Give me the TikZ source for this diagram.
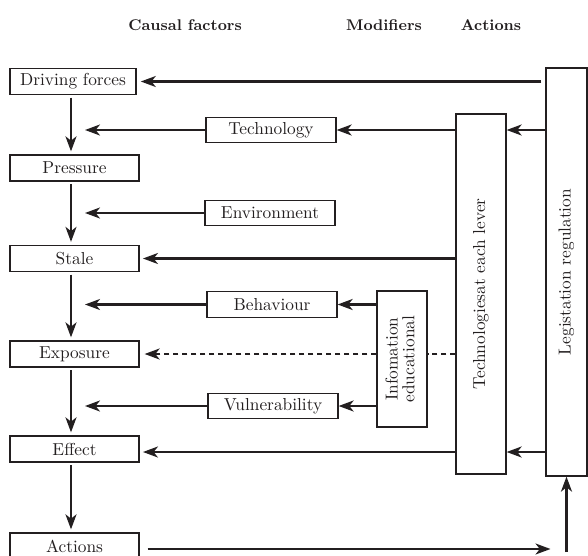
\documentclass[tikz,border=0pt]{standalone}
\usepackage{graphicx}
\usepackage{tikz}
\usetikzlibrary{arrows.meta,positioning,calc}
\definecolor{inkgray}{RGB}{35,31,32}

\begin{document}
\begin{tikzpicture}[x=0.6pt, y=-0.6pt,
  font=\fontsize{10.4}{12}\selectfont, text=inkgray,
  hdr/.style={font=\fontsize{9.3}{11}\selectfont\bfseries},
  cbox/.style={rectangle, draw=inkgray, line width=0.75pt, inner sep=0pt,
               minimum width=77.4pt, minimum height=15.6pt},
  mbox/.style={rectangle, draw=inkgray, line width=0.75pt, inner sep=0pt,
               minimum width=78pt, minimum height=15.4pt},
  tbox/.style={rectangle, draw=inkgray, line width=0.75pt, inner sep=0pt},
  farr/.style={-{Stealth[length=9pt, width=6.6pt, inset=2.6pt]}, line width=1.3pt, draw=inkgray},
  fline/.style={line width=1.3pt, draw=inkgray}
]
\useasboundingbox (0,0) rectangle (588,556);

% Headings
\node[hdr] (hcf)  at (185,25) {Causal factors};
\node[hdr] (hmod) at (384,25) {Modifiers};
\node[hdr] (hact) at (491,25) {Actions};

% Causal chain
\node[cbox, minimum width=75.6pt] (df) at (73,81.5) {Driving forces};
\node[cbox] (pr) at (74.5,168)   {Pressure};
\node[cbox] (st) at (74.5,258.5) {Stale};
\node[cbox] (ex) at (74.5,354)   {Exposure};
\node[cbox] (ef) at (74.5,449)   {Effect};
\node[cbox] (ac) at (74.5,546)   {Actions};

% Modifiers
\node[mbox] (tec) at (271,130)   {Technology};
\node[mbox] (env) at (270,213)   {Environment};
\node[mbox] (beh) at (272,304.5) {Behaviour};
\node[mbox] (vul) at (273,406)   {Vulnerability};

% Actions
\node[tbox, minimum width=30pt, minimum height=81.6pt] (info) at (402,359)
  {\rotatebox{90}{\begin{tabular}{@{}c@{}}Infomation\\[-2pt]educational\end{tabular}}};
\node[tbox, minimum width=30pt, minimum height=216pt] (tlev) at (481,294)
  {\rotatebox{90}{Technologiesat each lever}};
\node[tbox, minimum width=24.6pt, minimum height=244.8pt] (leg) at (566.5,272)
  {\rotatebox{90}{Legistation regulation}};

% Helper coordinates
\coordinate (vx) at (71,0);
\coordinate (sx) at (85,0);

% Chain arrows
\foreach \a/\b in {df/pr, pr/st, st/ex, ex/ef, ef/ac}
  \draw[farr, shorten <=1.5pt, shorten >=1.8pt] (\a.south -| vx) -- (\b.north -| vx);

% Modifier arrows
\foreach \m in {tec, env, beh, vul}
  \draw[farr] (\m.west) -- (\m.west -| sx);

% Arrows from the action boxes
\draw[farr, shorten <=2.4pt, shorten >=2.5pt] (leg.west |- df.east) -- (df.east);
\draw[farr] (leg.west |- tec.east) -- (tlev.east |- tec.east);
\draw[farr] ($(leg.west |- ef.east)+(0,3)$) -- ($(tlev.east |- ef.east)+(0,3)$);
\draw[farr] (tlev.west |- tec.east) -- (tec.east);
\draw[farr, shorten >=2pt] (tlev.west |- st.east) -- (st.east);
\draw[farr, shorten >=2pt] ($(tlev.west |- ef.east)+(0,3)$) -- ($(ef.east)+(0,3)$);
\draw[farr] (info.west |- beh.east) -- (beh.east);
\draw[farr] (info.west |- vul.east) -- (vul.east);
\draw[fline, dash pattern=on 3pt off 2.4pt] (tlev.west |- ex.east) -- (info.east |- ex.east);
\draw[farr, dash pattern=on 3pt off 2.4pt, shorten >=3pt] (info.west |- ex.east) -- (ex.east);

% Feedback from actions
\draw[farr] ($(ac.east)+(8,3)$) -- ($(leg.south |- ac.east)+(-16,3)$);
\draw[farr] ($(leg.south |- ac.east)+(0,6)$) -- (leg.south);
\end{tikzpicture}
\end{document}
